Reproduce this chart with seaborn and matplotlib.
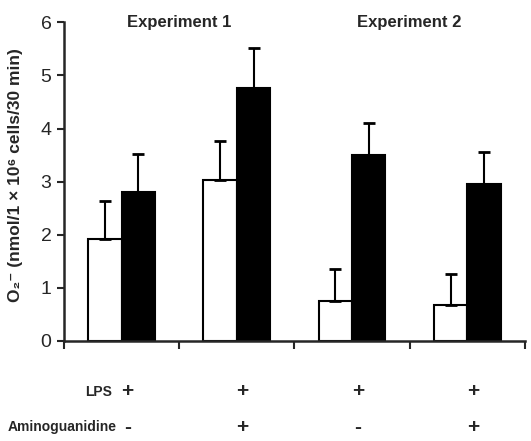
import pandas as pd
import matplotlib.pyplot as plt
import seaborn as sns

# Values
groups = ["1", "2", "3", "4"]
white_vals = [1.92, 3.03, 0.76, 0.68]
white_err = [0.72, 0.73, 0.59, 0.59]
black_vals = [2.81, 4.77, 3.51, 2.96]
black_err = [0.71, 0.75, 0.60, 0.59]
lps_signs = ["+", "+", "+", "+"]
amino_signs = ["-", "+", "-", "+"]
experiments = ["Experiment 1", "Experiment 2"]

df = pd.DataFrame({
    "group": groups * 2,
    "series": ["white"] * 4 + ["black"] * 4,
    "value": white_vals + black_vals,
    "err": white_err + black_err,
})

sns.set_style("ticks")
plt.rcParams["font.family"] = ["Liberation Sans", "DejaVu Sans"]

fig = plt.figure(figsize=(5.31, 4.41), dpi=100)
ax = fig.add_axes([0.1205, 0.2268, 0.868, 0.7227])

sns.barplot(
    data=df, x="group", y="value", hue="series",
    palette={"white": "white", "black": "black"},
    width=0.58, errorbar=None, edgecolor="black", linewidth=1.5,
    legend=False, ax=ax
)

# upward-only error bars on top of each bar
bars = [p for p in ax.patches if p.get_height() > 0]
for bar, e in zip(bars, df["err"]):
    xc = bar.get_x() + bar.get_width() / 2
    ax.errorbar(xc, bar.get_height(), yerr=[[0], [e]], fmt="none",
                ecolor="black", elinewidth=1.5, capsize=4, capthick=2)

ax.set_ylim(0, 6)
ax.set_yticks(range(0, 7))
ax.set_xlim(-0.5, 3.5)
ax.set_xticks([-0.5, 0.5, 1.5, 2.5, 3.5])
ax.set_xticklabels([])
ax.tick_params(axis="y", labelsize=14, width=1.5, length=5, pad=4)
ax.tick_params(axis="x", width=1.5, length=6)
for s in ["left", "bottom"]:
    ax.spines[s].set_linewidth(1.8)
sns.despine(ax=ax)
ax.set_xlabel("")
ax.set_ylabel("O₂⁻ (nmol/1 × 10⁶ cells/30 min)", fontsize=12.5,
              fontweight="bold")
ax.yaxis.set_label_coords(-0.09, 0.52)

# experiment titles
ax.text(0.5, 1.0, experiments[0], ha="center", va="center",
        fontsize=12, fontweight="bold", transform=ax.get_xaxis_transform())
ax.text(2.5, 1.0, experiments[1], ha="center", va="center",
        fontsize=12, fontweight="bold", transform=ax.get_xaxis_transform())

# treatment rows below the axis
tr = ax.get_xaxis_transform()
for i, (a, b) in enumerate(zip(lps_signs, amino_signs)):
    ax.text(i + 0.05, -0.16, a, ha="center", va="center", fontsize=15,
            fontweight="bold", transform=tr)
    ax.text(i + 0.05, -0.27, b, ha="center", va="center", fontsize=15,
            fontweight="bold", transform=tr)
fig.text(112 / 531, 1 - 392 / 441, "LPS", ha="right", va="center",
         fontsize=10, fontweight="bold")
fig.text(8 / 531, 1 - 427 / 441, "Aminoguanidine", ha="left", va="center",
         fontsize=10, fontweight="bold")

fig.savefig("out.png", dpi=100)
